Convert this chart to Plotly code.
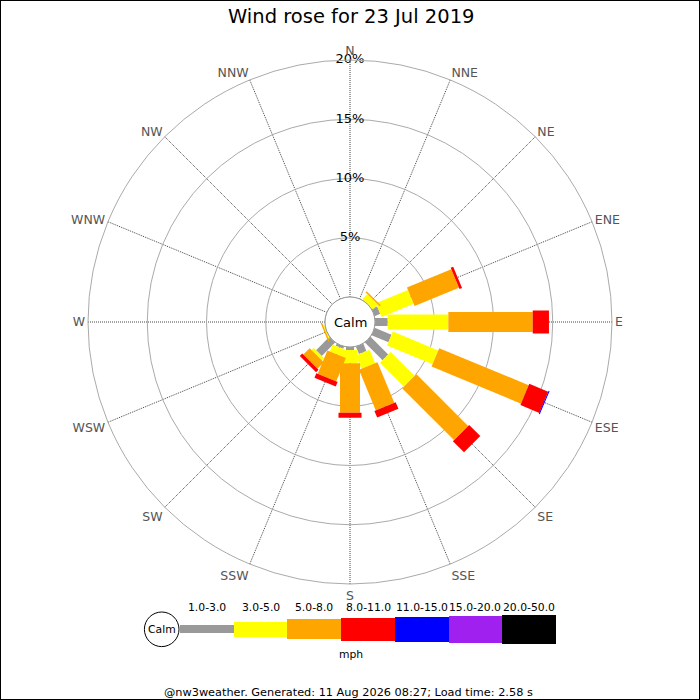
import plotly.graph_objects as go

# ---------------- data ----------------
directions = ["N", "NNE", "NE", "ENE", "E", "ESE", "SE", "SSE",
              "S", "SSW", "SW", "WSW", "W", "WNW", "NW", "NNW"]
band_labels = ["1.0-3.0", "3.0-5.0", "5.0-8.0", "8.0-11.0",
               "11.0-15.0", "15.0-20.0", "20.0-50.0"]
# percentage of time per direction, per speed band (mph)
pct_1_3   = [0, 0, 0,    0.51, 1.07, 1.54, 2.11, 0.68, 0.25, 0.20, 1.60, 0,    0, 0, 0, 0]
pct_3_5   = [0, 0, 0.60, 2.93, 5.12, 4.15, 2.87, 1.23, 1.13, 0.64, 0.26, 0.10, 0, 0, 0, 0]
pct_5_8   = [0, 0, 0.12, 4.05, 7.12, 8.17, 6.16, 3.71, 4.16, 2.13, 0.76, 0.12, 0, 0, 0, 0]
pct_8_11  = [0, 0, 0,    0.23, 1.37, 1.73, 1.33, 0.60, 0.43, 0.41, 0.29, 0,    0, 0, 0, 0]
pct_11_15 = [0, 0, 0,    0,    0,    0.08, 0,    0,    0,    0,    0,    0,    0, 0, 0, 0]
pct_15_20 = [0] * 16
pct_20_50 = [0] * 16
radial_ticks = [5, 10, 15, 20]
title_text = "Wind rose for 23 Jul 2019"
footer_text = "@nw3weather. Generated: 11 Aug 2026 08:27; Load time: 2.58 s"

# ---------------- styles ----------------
band_colors = ["#999999", "#ffff00", "#ffa500", "#ff0000", "#0000ff", "#a020f0", "#000000"]
band_px = [8, 15, 20, 23, 25, 27, 29]
FONT = "DejaVu Sans"
W = H = 700


def px(x, y):
    return x / W, 1 - y / H


bands = [pct_1_3, pct_3_5, pct_5_8, pct_8_11, pct_11_15, pct_15_20, pct_20_50]
angles = [i * 360 / len(directions) for i in range(len(directions))]

fig = go.Figure()

# stacked segments drawn as thick radial lines
cum = [0.0] * len(directions)
for b, vals in enumerate(bands):
    rs, ts = [], []
    for i, v in enumerate(vals):
        if v > 0:
            rs += [cum[i], cum[i] + v, None]
            ts += [angles[i], angles[i], None]
        cum[i] += v
    if rs:
        fig.add_trace(go.Scatterpolar(
            r=rs, theta=ts, mode="lines", connectgaps=False,
            line=dict(color=band_colors[b], width=band_px[b]),
            hoverinfo="skip", showlegend=False))

# radial labels on the N spoke
fig.add_trace(go.Scatterpolar(
    r=radial_ticks, theta=[0] * len(radial_ticks), mode="text",
    text=[f"{t}%" for t in radial_ticks], textposition="middle center",
    textfont=dict(family=FONT, size=13, color="#000"),
    hoverinfo="skip", showlegend=False))

# legend colour key (cartesian)
lx0, lx1 = 180, 556
ly_c = 629.3
fig.add_trace(go.Bar(
    x=list(range(len(band_labels))), y=band_px,
    base=[-h / 2 for h in band_px], width=1,
    marker=dict(color=band_colors, line=dict(width=0)),
    xaxis="x", yaxis="y", hoverinfo="skip", showlegend=False))

fig.update_layout(
    width=W, height=H, margin=dict(l=0, r=0, t=0, b=0),
    paper_bgcolor="white", plot_bgcolor="rgba(0,0,0,0)",
    font=dict(family=FONT),
    polar=dict(
        domain=dict(x=[88 / W, 612 / W], y=[1 - 584 / H, 1 - 60 / H]),
        hole=25 / 262, bgcolor="white",
        radialaxis=dict(range=[0, 20], tickvals=radial_ticks, showticklabels=False,
                        ticks="", showline=False, gridcolor="#aaaaaa", gridwidth=1),
        angularaxis=dict(direction="clockwise", rotation=90, thetaunit="degrees",
                         tickmode="array", tickvals=angles, ticktext=directions,
                         ticks="", showline=True, linecolor="#aaaaaa", linewidth=1,
                         gridcolor="#444444", griddash="1px,1px", gridwidth=1,
                         tickfont=dict(family=FONT, size=12.5, color="#555555")),
    ),
    xaxis=dict(domain=[lx0 / W, lx1 / W], range=[-0.5, len(band_labels) - 0.5],
               visible=False, fixedrange=True),
    yaxis=dict(domain=[1 - (ly_c + 20) / H, 1 - (ly_c - 20) / H], range=[-20, 20],
               visible=False, fixedrange=True),
    bargap=0,
)

shapes = []
# calm circle in the rose centre
cx, cy, cr = 350, 322, 25
x0, y0 = px(cx - cr, cy + cr)
x1, y1 = px(cx + cr, cy - cr)
shapes.append(dict(type="circle", xref="paper", yref="paper", x0=x0, y0=y0, x1=x1, y1=y1,
                   line=dict(color="#999999", width=1), fillcolor="white", layer="above"))
# calm circle in the legend
lcx, lcy, lcr = 161.7, 629.3, 17.3
x0, y0 = px(lcx - lcr, lcy + lcr)
x1, y1 = px(lcx + lcr, lcy - lcr)
shapes.append(dict(type="circle", xref="paper", yref="paper", x0=x0, y0=y0, x1=x1, y1=y1,
                   line=dict(color="#000000", width=1), fillcolor="white", layer="above"))
# image border
shapes.append(dict(type="rect", xref="paper", yref="paper", x0=0, y0=0, x1=1, y1=1,
                   line=dict(color="#000000", width=2), fillcolor="rgba(0,0,0,0)"))
fig.update_layout(shapes=shapes)

ann = []
ann.append(dict(text=title_text, x=351 / W, y=1 - 17 / H, xref="paper", yref="paper",
                showarrow=False, xanchor="center", yanchor="middle",
                font=dict(family=FONT, size=19.5, color="#000")))
ann.append(dict(text="Calm", x=cx / W, y=1 - cy / H, xref="paper", yref="paper",
                showarrow=False, xanchor="center", yanchor="middle",
                font=dict(family=FONT, size=13, color="#000")))
ann.append(dict(text="Calm", x=lcx / W, y=1 - lcy / H, xref="paper", yref="paper",
                showarrow=False, xanchor="center", yanchor="middle",
                font=dict(family=FONT, size=10.8, color="#000")))
for i, lab in enumerate(band_labels):
    ann.append(dict(text=lab, x=i, y=1 - 607.5 / H, xref="x", yref="paper",
                    showarrow=False, xanchor="center", yanchor="middle",
                    font=dict(family=FONT, size=10.8, color="#000")))
ann.append(dict(text="mph", x=351 / W, y=1 - 654.5 / H, xref="paper", yref="paper",
                showarrow=False, xanchor="center", yanchor="middle",
                font=dict(family=FONT, size=10.8, color="#000")))
ann.append(dict(text=footer_text, x=348 / W, y=1 - 692.5 / H, xref="paper", yref="paper",
                showarrow=False, xanchor="center", yanchor="middle",
                font=dict(family=FONT, size=11.3, color="#000")))
fig.update_layout(annotations=ann)

fig.write_html("out.html", config={"displayModeBar": False},
               post_script="document.body.style.margin='0';document.body.style.overflow='hidden';")
